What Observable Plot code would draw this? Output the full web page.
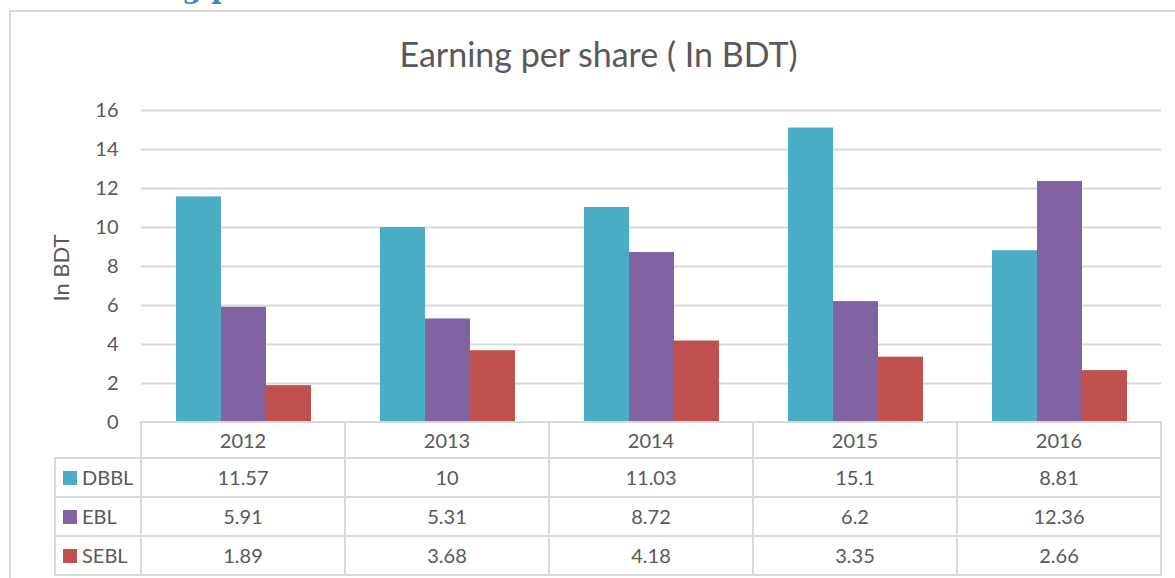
<!DOCTYPE html>
<html>
<head>
<meta charset="utf-8">
<script src="https://cdn.jsdelivr.net/npm/d3@7"></script>
<script src="https://cdn.jsdelivr.net/npm/@observablehq/plot@0.6"></script>
<style>
  html, body { margin: 0; padding: 0; background: #fff; }
  #wrap { position: relative; width: 1175px; height: 578px; overflow: hidden; font-family: Lato, sans-serif; color: #595959; }
  #frame { position: absolute; left: 9px; top: 10px; width: 1300px; height: 700px; border: 2px solid #D9D9D9; box-sizing: border-box; }
  #heading { position: absolute; top: -25px; font-family: "DejaVu Serif", serif; font-weight: bold; font-size: 28px; line-height: 28px; color: #4F81BD; white-space: pre; }
  #title { position: absolute; left: 0; width: 1197px; top: 34px; text-align: center; font-size: 34px; line-height: 40px; white-space: pre; }
  #ylabel { position: absolute; left: 60px; top: 268px; font-size: 22px; transform: translate(-50%, -50%) rotate(-90deg); white-space: pre; }
  #chart { position: absolute; left: 0; top: 0; }
  .cell { position: absolute; box-sizing: border-box; border: 2px solid #D9D9D9; text-align: center; font-size: 20px; white-space: pre; background: #fff; }
  .sw { position: absolute; width: 14px; height: 14px; }
</style>
</head>
<body>
<div id="wrap">
  <div id="frame"></div>
  <div id="heading"></div>
  <div id="chart"></div>
  <div id="title"></div>
  <div id="ylabel"></div>
  <div id="table"></div>
</div>
<script>
const titleText = "Earning per share ( In BDT)";
const headingText = "Earning per share";
const yLabel = "In BDT";
const years = ["2012", "2013", "2014", "2015", "2016"];
const series = ["DBBL", "EBL", "SEBL"];
const dbbl = [11.57, 10, 11.03, 15.1, 8.81];
const ebl = [5.91, 5.31, 8.72, 6.2, 12.36];
const sebl = [1.89, 3.68, 4.18, 3.35, 2.66];
const colors = ["#4BACC6", "#8064A2", "#C0504D"];
const yTicks = [0, 2, 4, 6, 8, 10, 12, 14, 16];

const seriesValues = [dbbl, ebl, sebl];
const data = [];
years.forEach((yr, i) => series.forEach((s, j) => data.push({year: yr, series: s, value: seriesValues[j][i]})));

document.getElementById("title").textContent = titleText;
document.getElementById("ylabel").textContent = yLabel;

// partially visible heading above the chart frame
const heading = document.getElementById("heading");
heading.textContent = headingText;
const probe = document.createElement("span");
probe.style.cssText = "position:absolute;visibility:hidden;font-family:'DejaVu Serif',serif;font-weight:bold;font-size:28px;white-space:pre";
probe.textContent = "Earnin";
document.body.appendChild(probe);
heading.style.left = (182 - probe.getBoundingClientRect().width) + "px";
probe.remove();

const W = 1175, marginLeft = 141, marginRight = 14, marginTop = 110, marginBottom = 18, H = 440;

const plot = Plot.plot({
  width: W,
  height: H,
  marginLeft, marginRight, marginTop, marginBottom,
  style: {fontFamily: "Lato, sans-serif", fontSize: "20px", color: "#595959", background: "transparent", overflow: "visible"},
  fx: {domain: years, paddingInner: 0, paddingOuter: 0, axis: null, label: null},
  x: {domain: series, paddingInner: 0, paddingOuter: 0.75, axis: null, label: null},
  y: {domain: [0, 16], label: null},
  color: {domain: series, range: colors},
  marks: [
    Plot.gridY(yTicks, {stroke: "#D9D9D9", strokeOpacity: 1, strokeWidth: 2}),
    Plot.axisY(yTicks, {tickSize: 0, tickPadding: 23, label: null, fontSize: 20, fill: "#595959"}),
    Plot.barY(data, {fx: "year", x: "series", y: "value", fill: "series"})
  ]
});
document.getElementById("chart").appendChild(plot);

// data table under the chart, aligned to the fx band scale
let fxScale;
try {
  const s = plot.scale("fx");
  if (s && s.apply) fxScale = s;
} catch (e) {}
const band = d3.scaleBand().domain(years).range([marginLeft, W - marginRight]).paddingInner(0).paddingOuter(0);
const colX = yr => fxScale ? fxScale.apply(yr) : band(yr);
const colW = fxScale ? fxScale.bandwidth : band.bandwidth();

const yScale = plot.scale("y");
const tableTop = yScale.apply(0);
const headerH = 36, rowH = 39, labelLeft = 55;
const table = document.getElementById("table");
function cell(x, y, w, h, text) {
  const d = document.createElement("div");
  d.className = "cell";
  d.style.left = (x - 1) + "px";
  d.style.top = (y - 1) + "px";
  d.style.width = (w + 2) + "px";
  d.style.height = (h + 2) + "px";
  d.style.lineHeight = (h - 2) + "px";
  if (text !== undefined) d.textContent = text;
  table.appendChild(d);
  return d;
}
years.forEach(yr => cell(colX(yr), tableTop, colW, headerH, yr));
series.forEach((s, j) => {
  const y = tableTop + headerH + j * rowH;
  const lc = cell(labelLeft, y, marginLeft - labelLeft, rowH);
  lc.style.textAlign = "left";
  const sw = document.createElement("div");
  sw.className = "sw";
  sw.style.background = colors[j];
  sw.style.left = "7px";
  sw.style.top = ((rowH - 14) / 2 - 1) + "px";
  lc.appendChild(sw);
  const lab = document.createElement("span");
  lab.textContent = s;
  lab.style.position = "absolute";
  lab.style.left = "26px";
  lc.appendChild(lab);
  years.forEach((yr, i) => cell(colX(yr), y, colW, rowH, String(seriesValues[j][i])));
});
</script>
</body>
</html>
